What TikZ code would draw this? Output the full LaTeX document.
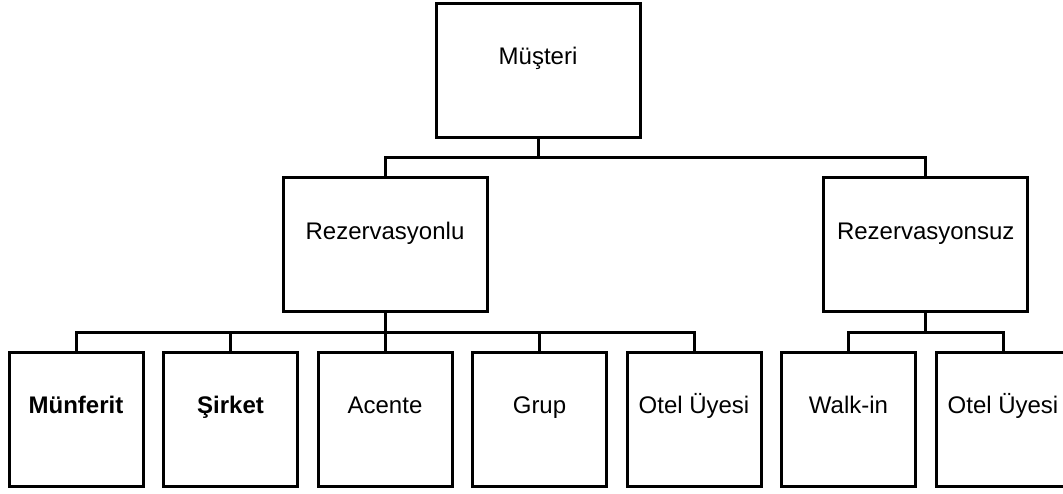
\documentclass[tikz,border=0pt]{standalone}
\usepackage{fontspec}
\setmainfont{Liberation Sans}
\begin{document}
\begin{tikzpicture}[x=1pt,y=-1pt,
  box/.style={draw, line width=3pt, minimum width=204pt, minimum height=134pt,
    inner sep=0pt, text height=17pt, text depth=28pt,
    font=\fontsize{24}{28}\selectfont},
  leaf/.style={box, minimum width=134pt},
  link/.style={line width=3pt}]
\clip (0,0) rectangle (1063,493);

% top level
\node[box] (mus) at (538,70) {Müşteri};

% second level
\node[box] (rez) at (385,244.5) {Rezervasyonlu};
\node[box] (rsz) at (925.75,244.5) {Rezervasyonsuz};

% leaves
\node[leaf] (munferit) at (76,419)    {\bfseries Münferit};
\node[leaf] (sirket)   at (230.5,419) {\bfseries Şirket};
\node[leaf] (acente)   at (385,419)   {Acente};
\node[leaf] (grup)     at (539.5,419) {Grup};
\node[leaf] (otelA)    at (694,419)   {Otel Üyesi};
\node[leaf] (walkin)   at (848.5,419) {Walk-in};
\node[leaf] (otelB)    at (1003,419)  {Otel Üyesi};

% junctions on the buses
\coordinate (j1) at (538,157);
\coordinate (j2) at (385,332);
\coordinate (j3) at (925.75,332);

% top bus
\draw[link] (mus.south) -- (j1);
\draw[link] (rez.north) |- (j1) -| (rsz.north);

% left bus
\draw[link] (rez.south) -- (acente.north);
\draw[link] (munferit.north) |- (j2) -| (otelA.north);
\draw[link] (sirket.north) -- (sirket.north |- j2);
\draw[link] (grup.north) -- (grup.north |- j2);

% right bus
\draw[link] (rsz.south) -- (j3);
\draw[link] (walkin.north) |- (j3) -| (otelB.north);
\end{tikzpicture}
\end{document}
